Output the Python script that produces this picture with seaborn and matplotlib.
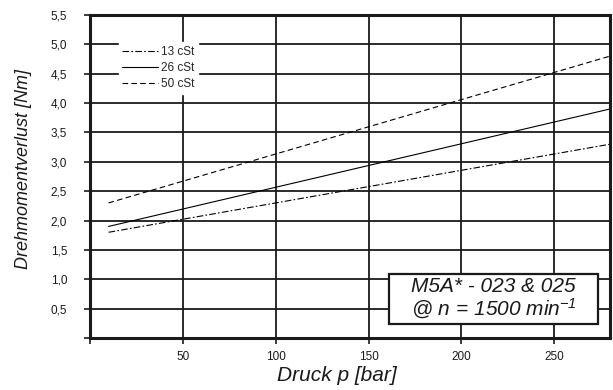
import matplotlib
matplotlib.use("Agg")
import matplotlib.pyplot as plt
import seaborn as sns
import pandas as pd
from matplotlib.lines import Line2D
from matplotlib.patches import Rectangle

# Data
pressure = [10, 280]
loss_13cst = [1.8, 3.3]
loss_26cst = [1.9, 3.9]
loss_50cst = [2.3, 4.8]
series_labels = ["13 cSt", "26 cSt", "50 cSt"]
x_ticks = [0, 50, 100, 150, 200, 250]
x_ticklabels = ["", "50", "100", "150", "200", "250"]
y_ticks = [0, 0.5, 1.0, 1.5, 2.0, 2.5, 3.0, 3.5, 4.0, 4.5, 5.0, 5.5]
y_ticklabels = ["", "0,5", "1,0", "1,5", "2,0", "2,5", "3,0", "3,5", "4,0", "4,5", "5,0", "5,5"]

rows = []
for lab, vals in zip(series_labels, [loss_13cst, loss_26cst, loss_50cst]):
    for p, v in zip(pressure, vals):
        rows.append({"p": p, "M": v, "visc": lab})
df = pd.DataFrame(rows)

sns.set_style("white")
plt.rcParams["font.family"] = ["Liberation Sans", "DejaVu Sans"]
plt.rcParams["mathtext.fontset"] = "custom"
plt.rcParams["mathtext.rm"] = "Liberation Sans:italic"
plt.rcParams["mathtext.it"] = "Liberation Sans:italic"

fig = plt.figure(figsize=(6.13, 3.9), dpi=100)
ax = fig.add_axes([90/613, 52/390, 520/613, 323/390])

dash_map = {"13 cSt": (6, 2, 1.5, 2), "26 cSt": "", "50 cSt": (5, 3)}
sns.lineplot(data=df, x="p", y="M", style="visc", dashes=dash_map,
             color="black", lw=0.8, ax=ax, legend=False)

ax.set_xlim(0, 280)
ax.set_ylim(0, 5.5)
ax.set_xticks(x_ticks)
ax.set_xticklabels(x_ticklabels)
ax.set_yticks(y_ticks)
ax.set_yticklabels(y_ticklabels)
ax.grid(True, color="#1a1a1a", lw=1.3)
ax.set_axisbelow(True)
for s in ax.spines.values():
    s.set_visible(True)
    s.set_color("#1a1a1a")
    s.set_linewidth(2.2)
ax.tick_params(axis="both", which="both", direction="out", length=4, width=1.2,
               color="#1a1a1a", labelsize=8.5, colors="#1a1a1a")
ax.tick_params(axis="x", pad=5.5)
ax.tick_params(axis="y", pad=12.5)
ax.tick_params(bottom=True, left=True)

ax.set_xlabel("Druck p [bar]", fontsize=15, style="italic", color="#1a1a1a")
ax.set_ylabel("Drehmomentverlust [Nm]", fontsize=13, style="italic", color="#1a1a1a")
ax.xaxis.set_label_coords(0.475, -0.087)
ax.yaxis.set_label_coords(-0.112, 0.523)

handles = [Line2D([], [], color="black", lw=0.8, dashes=(6, 2, 1.5, 2)),
           Line2D([], [], color="black", lw=0.8),
           Line2D([], [], color="black", lw=0.8, dashes=(5, 3))]
leg = ax.legend(handles, series_labels, loc="upper left", bbox_to_anchor=(0.055, 0.915),
                frameon=True, fontsize=8.5, handlelength=3.0, handletextpad=0.3,
                labelspacing=0.35, borderpad=0.3, borderaxespad=0.0)
leg.get_frame().set_edgecolor("white")
leg.get_frame().set_facecolor("white")
leg.get_frame().set_alpha(1)
leg.get_frame().set_boxstyle("square", pad=0.0)

ax.add_patch(Rectangle((0.575, 0.043), 0.402, 0.155, transform=ax.transAxes,
                       fc="white", ec="#1a1a1a", lw=1.6, zorder=5))
ax.text(0.776, 0.121, "M5A* - 023 & 025\n@ n = 1500 min$^{-1}$",
        transform=ax.transAxes, ha="center", va="center", fontsize=15,
        style="italic", color="#1a1a1a", linespacing=1.05, multialignment="center",
        zorder=6)

fig.savefig("out.png", dpi=100)
